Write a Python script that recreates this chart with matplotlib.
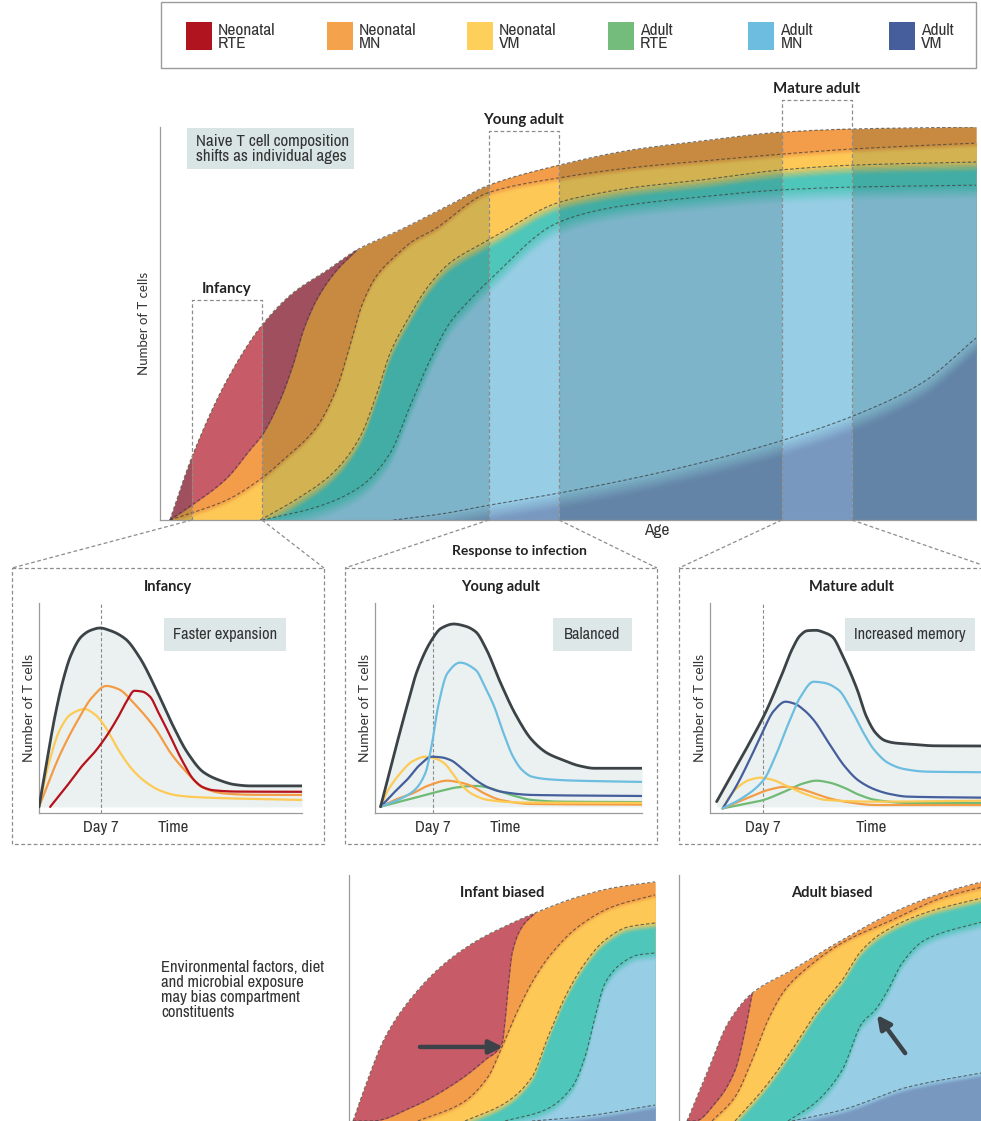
import numpy as np
import matplotlib.pyplot as plt
import matplotlib.colors as mcolors
from matplotlib import font_manager
from matplotlib.patches import Rectangle

# pick a condensed face if the system has one, else a narrow-ish sans
_fonts = font_manager.fontManager.ttflist
_narrow = [f for f in _fonts if "Narrow" in f.name or "Condensed" in f.name]
_cond = [f for f in _fonts if str(f.stretch) in ("condensed", "semi-condensed", "75", "87")]
if _narrow:
    NARROW, STRETCH = [_narrow[0].name, "DejaVu Sans"], "normal"
elif _cond:
    NARROW, STRETCH = [_cond[0].name, "DejaVu Sans"], "condensed"
else:
    NARROW, STRETCH = ["Liberation Sans", "DejaVu Sans"], "normal"
WIDE = ["Lato", "DejaVu Sans"]
plt.rcParams["font.family"] = NARROW
plt.rcParams["font.stretch"] = STRETCH

W, H = 981, 1121

# legend
LEGEND_LABELS = ["Neonatal\nRTE", "Neonatal\nMN", "Neonatal\nVM", "Adult\nRTE", "Adult\nMN", "Adult\nVM"]
LEGEND_COLORS = ["#b0141f", "#f4a24c", "#fecf5b", "#74bc7b", "#6dbde0", "#465e9b"]

# main chart, age 0-100 vs cells 0-100: boundaries between compartments
TOP_X = [1.2, 3.9, 8.2, 12.5, 16.3, 20.5, 24.1, 29.4, 35.5, 40.3, 48.9, 57.6, 66.2, 76.2, 84.8, 100]
TOP_Y = [0, 16, 35.6, 49.6, 57.8, 63.6, 68.7, 73.8, 80.2, 85.2, 90.3, 94.1, 96.4, 98.7, 99.5, 100]
RTE_X = [1.2, 3.9, 8.2, 11.0, 12.5, 14.7, 16.3, 17.6, 19.3, 21.5, 24.1]
RTE_Y = [0, 3.8, 10.7, 17.8, 21.6, 30.5, 39.5, 48.5, 56.5, 63.2, 68.7]
MN_X = [1.2, 3.9, 8.2, 12.3, 15.1, 19.2, 21.7, 23.5, 24.8, 26.5, 29.0, 31.0, 33.5, 40.1, 48.7, 57.6, 66.2, 76.2, 84.8, 100]
MN_Y = [0, 1.8, 5.1, 10.4, 15.3, 23.7, 33.8, 46, 55, 62, 67.5, 71, 73.8, 83.2, 87, 89.6, 91.3, 93.1, 94.4, 95.9]
VM_X = [12.3, 17.2, 21.2, 24.5, 26.6, 28.2, 30.3, 32.8, 35.5, 39.6, 41.7, 48.7, 53.9, 57.6, 66.2, 76.2, 84.8, 100]
VM_Y = [0, 5.9, 12, 21.1, 32.3, 42.5, 50.9, 59.3, 65.4, 70.5, 73, 80.7, 83.2, 84.5, 86.5, 89.1, 90.3, 91.1]
ART_X = [12.5, 19.2, 24.5, 28.2, 30.6, 33.1, 35.5, 37.6, 40.4, 48.7, 53.9, 57.6, 66.2, 76.2, 84.8, 100]
ART_Y = [0, 3.3, 8.4, 17, 28.8, 40.7, 50.1, 55.2, 61.1, 75.6, 78.9, 80.2, 82.2, 84, 84.7, 85.2]
AMN_X = [28.6, 34.3, 40.4, 49, 60, 68.6, 76.5, 85.2, 93.4, 100]
AMN_Y = [0, 1.5, 3.8, 6.9, 11.5, 15.8, 20.4, 26.7, 34.9, 46.3]

WINDOW_NAMES = ["Infancy", "Young adult", "Mature adult"]
WINDOW_START = [3.9, 40.3, 76.2]
WINDOW_END = [12.5, 48.9, 84.8]
WINDOW_TOP = [56, 99, 106.9]

# response to infection panels (time 0-100, cells 0-100)
P1_TOTAL_T = [0, 3, 6, 9.1, 12, 16, 19.5, 23, 27, 32.5, 38, 44.3, 50, 56.1, 62, 67.9, 74, 79.7, 99.2]
P1_TOTAL_N = [2.9, 25, 46, 63.3, 75, 84, 87, 88.1, 86.8, 83, 74, 58.6, 43, 28.6, 19.5, 15.7, 13.5, 12.9, 12.9]
P1_RTE_T = [4.2, 10, 16, 21, 25.3, 30, 33, 36, 39, 41.9, 45, 49, 54, 58.5, 62, 66, 75, 99.2]
P1_RTE_N = [2.9, 12, 22, 29, 36.3, 46, 53, 58.2, 57.8, 55.4, 48, 38, 25, 15.7, 12.2, 10.8, 10.2, 10.1]
P1_MN_T = [0, 8, 15, 20, 25.4, 30, 36, 44, 50, 56, 62, 70, 80, 99.2]
P1_MN_N = [2.9, 28, 45, 55, 60.5, 59, 52, 40, 28, 19, 12, 9.3, 8.7, 8.6]
P1_VM_T = [0, 4, 8, 12, 17.2, 21, 25, 30, 35, 40, 46, 52, 60, 99.2]
P1_VM_N = [2.9, 25, 40, 47, 49.5, 47, 41, 30, 21, 15, 10.5, 8.4, 7.5, 6.2]

P2_TOTAL_T = [2.1, 7, 12, 16, 21.4, 25, 29.7, 34, 38, 42, 47.4, 53, 59.2, 65, 71, 77, 82.8, 100.8]
P2_TOTAL_N = [3, 27, 50.6, 68, 82.4, 88, 90, 89, 86.3, 78, 61.9, 47, 34.8, 28.5, 25.2, 22.5, 21.3, 21.3]
P2_AMN_T = [2.1, 10, 15, 19, 21.5, 23.8, 27.3, 32.1, 38, 41.5, 45, 48.5, 52.1, 55.5, 59.2, 66, 75.7, 100.8]
P2_AMN_N = [3, 7, 11, 19, 33, 50.6, 66.5, 71.6, 68.1, 60, 50.6, 38, 26.8, 20.5, 17.3, 16, 15.4, 14.8]
P2_AVM_T = [2.1, 7, 12, 17, 21.4, 25, 28.5, 33, 38, 43, 47.4, 59.2, 100.8]
P2_AVM_N = [3, 9.5, 15.7, 23, 26.8, 26.5, 25.2, 21, 15.7, 12, 10.2, 8.6, 8.1]
P2_VM_T = [2.1, 5, 9.6, 14, 19, 23, 26.2, 30, 33.2, 37, 42.6, 55, 100.8]
P2_VM_N = [3, 11, 19, 24.5, 26.8, 25.8, 23.6, 17.5, 12.5, 8.8, 6.2, 5, 4.8]
P2_MN_T = [2.1, 8, 14.3, 20, 27.3, 31, 35.6, 41, 47.4, 59.2, 100.8]
P2_MN_N = [3, 6.5, 9.4, 13, 15.4, 14.8, 13.3, 9.5, 6.2, 4.3, 4]
P2_ART_T = [2.1, 8, 14.3, 23.8, 31, 38, 43, 47.4, 53, 59.2, 70, 100.8]
P2_ART_N = [3, 5, 7, 10.2, 12.2, 12.9, 12, 10.2, 8, 6.2, 5.4, 5.2]

P3_TOTAL_T = [2.5, 9, 15.5, 21, 27.3, 31, 34, 36.7, 40, 43, 46.1, 50, 55.6, 59, 62.6, 66, 70, 74.5, 85, 103.8]
P3_TOTAL_N = [5.4, 20, 34.8, 48, 66.5, 78, 84.5, 86.8, 87, 86, 84, 75, 58.6, 46, 38, 34.5, 33.3, 32.9, 32, 31.9]
P3_AMN_T = [4.8, 12, 20.2, 25, 29.6, 34, 39.1, 43, 48.5, 53, 58, 62, 67.4, 73, 81.6, 103.8]
P3_AMN_N = [2.2, 7, 15.7, 28, 42.6, 55, 62.5, 62, 58.6, 50, 38, 30, 23.7, 21, 19.7, 19.4]
P3_AVM_T = [4.8, 10, 15.5, 20, 24, 28.5, 32, 35.5, 39.1, 45, 50.9, 56, 62.6, 68, 74.5, 103.8]
P3_AVM_N = [2.2, 13, 26.8, 39, 48.5, 53, 52, 49, 44.3, 33, 22.1, 15.5, 11, 9, 7.8, 7.3]
P3_VM_T = [4.8, 7.5, 10.7, 15, 19, 23, 29.6, 36, 43.8, 62.6, 103.8]
P3_VM_N = [2.2, 8, 12.5, 15.8, 16.8, 16, 12.5, 9, 6.2, 5.4, 5.9]
P3_MN_T = [4.8, 10, 15.5, 22, 28.5, 34, 39.1, 45, 50.9, 62.6, 103.8]
P3_MN_N = [2.2, 5, 7.8, 11, 12.5, 11.5, 9.4, 7, 5.4, 3.8, 3.8]
P3_ART_T = [4.8, 12, 20.2, 25, 29.6, 35, 40.2, 45, 50.9, 56, 62.6, 74.5, 103.8]
P3_ART_N = [2.2, 4, 6.2, 8.5, 11, 14, 15.4, 14.5, 11.9, 8.8, 6.2, 4.8, 4.8]

PANEL_TITLES = ["Infancy", "Young adult", "Mature adult"]
PANEL_NOTES = ["Faster expansion", "Balanced", "Increased memory"]
DAY7 = [23.4, 21.9, 20.0]
TIME_TICK = [50.6, 49.0, 61.0]

# biased compartments (bottom)
IB_TOP_X = [1.3, 5.2, 11.8, 20.6, 31.4, 42.2, 53.3, 60.8, 74.8, 85.9, 100]
IB_TOP_Y = [0, 13.8, 34.1, 50.4, 64.2, 73.6, 80.5, 84.6, 91.1, 94.7, 97.2]
IB_RTE_X = [1.3, 7.5, 20.6, 34.6, 44.4, 50, 51, 52, 53.3, 56.5, 60.8]
IB_RTE_Y = [0, 0, 5.7, 15.4, 24.8, 31.7, 41.1, 54.5, 68.3, 78.9, 84.6]
IB_MN_X = [22.5, 36.9, 45.4, 50, 55.2, 60.8, 66.3, 74.8, 85.9, 100]
IB_MN_Y = [0, 7.3, 17.9, 30.1, 45.1, 58.5, 68.3, 78.9, 87, 91.9]
IB_VM_X = [37.9, 51, 59.8, 65, 70.6, 77.1, 83.7, 91.2, 100]
IB_VM_Y = [0, 7.3, 17.9, 34.1, 50.4, 64.2, 73.6, 78.9, 80.5]
IB_ART_X = [51, 64.1, 72.9, 77.1, 80.4, 83.7, 89.2, 94.4, 100]
IB_ART_Y = [0, 4.5, 13.8, 26, 42.3, 56.1, 64.2, 67.5, 68.3]
IB_AMN_X = [59.8, 74.8, 100]
IB_AMN_Y = [0, 1.6, 6.5]
IB_ARROW = [(23.2, 30.1), (50.3, 30.1)]

AB_TOP_X = [2.6, 9.5, 16, 23.9, 36.9, 53.3, 69.6, 85.9, 100]
AB_TOP_Y = [0, 20.7, 39.8, 52, 61.4, 73.6, 84.6, 92.7, 97.6]
AB_RTE_X = [2.6, 5.2, 11.8, 18.3, 21.6, 23.9]
AB_RTE_Y = [0, 0, 7.3, 20.7, 37, 52]
AB_MN_X = [10.8, 18.3, 23.9, 29.1, 34.6, 42.2, 53.3, 69.6, 85.9, 100]
AB_MN_Y = [0, 9.8, 24.8, 41.1, 53.3, 62.6, 72.4, 81.7, 90.7, 95.4]
AB_VM_X = [18.3, 28.1, 36.9, 45.4, 53.3, 59.8, 66.3, 80.4, 100]
AB_VM_Y = [0, 13.8, 28.9, 45.1, 57.3, 69.5, 76.4, 84.6, 91]
AB_ART_X = [35.6, 44.4, 53.3, 59.8, 64.1, 68.3, 72.9, 80.4, 100]
AB_ART_Y = [0, 7.3, 20.7, 39.8, 45.1, 53.3, 64.2, 73.6, 81.3]
AB_AMN_X = [36.9, 53.3, 74.8, 100]
AB_AMN_Y = [0, 4.5, 13.8, 19.8]
AB_ARROW = [(73.9, 27.6), (64.7, 43.1)]

MUTED = {"rte": "#9f4f5d", "mn": "#c88a40", "vm": "#d3b351",
         "art": "#41ada5", "amn": "#7eb4c9", "avm": "#6384a6"}
BRIGHT = {"rte": "#c85b68", "mn": "#f39c49", "vm": "#fdc856",
          "art": "#4fc6ba", "amn": "#97cde5", "avm": "#7898c0"}
LINE = {"total": "#3c4347", "rte": "#b5121b", "mn": "#f39c45", "vm": "#fdca55",
        "art": "#6fba74", "amn": "#6cbde0", "avm": "#455e9c"}


def pchip(xs, ys, xq):
    x = np.asarray(xs, float)
    y = np.asarray(ys, float)
    h = np.diff(x)
    d = np.diff(y) / h
    m = np.zeros_like(x)
    m[0], m[-1] = d[0], d[-1]
    for k in range(1, len(x) - 1):
        if d[k - 1] * d[k] > 0:
            w1 = 2 * h[k] + h[k - 1]
            w2 = h[k] + 2 * h[k - 1]
            m[k] = (w1 + w2) / (w1 / d[k - 1] + w2 / d[k])
    i = np.clip(np.searchsorted(x, xq) - 1, 0, len(x) - 2)
    t = (xq - x[i]) / h[i]
    return ((2 * t**3 - 3 * t**2 + 1) * y[i] + (t**3 - 2 * t**2 + t) * h[i] * m[i]
            + (-2 * t**3 + 3 * t**2) * y[i + 1] + (t**3 - t**2) * h[i] * m[i + 1])


def smooth(xs, ys, lo=-np.inf, hi=np.inf, n=400):
    a, b = max(lo, xs[0]), min(hi, xs[-1])
    if b <= a:
        return None, None
    xq = np.linspace(a, b, n)
    return xq, pchip(xs, ys, xq)


def mix(c1, c2, f):
    a = np.array(mcolors.to_rgb(c1))
    b = np.array(mcolors.to_rgb(c2))
    return tuple(a + (b - a) * f)


def paint_stack(ax, layers, red, pal, lo=-np.inf, hi=np.inf, z=1):
    # layers painted top-down, each filled to the baseline; soft edge under each boundary
    prev = None
    for xs, ys, key, blur in layers:
        xq, yq = smooth(xs, ys, lo, hi)
        if xq is not None:
            ax.fill_between(xq, 0, yq, color=pal[key], lw=0.3, ec=pal[key], zorder=z)
            if blur and prev:
                steps = 8
                for k in range(steps):
                    c = mix(pal[prev], pal[key], (k + 0.5) / steps)
                    ax.fill_between(xq, np.maximum(yq - blur * (k + 1) / steps, 0),
                                    np.maximum(yq - blur * k / steps, 0),
                                    color=c, lw=0.3, ec=c, zorder=z)
        prev = key
    top, low = red
    xq, yl = smooth(*low, lo, hi)
    if xq is not None:
        ax.fill_between(xq, yl, pchip(*top, xq), color=pal["rte"], lw=0.3,
                        ec=pal["rte"], zorder=z)


def dashed_bounds(ax, curves, z=5):
    for xs, ys in curves:
        xq, yq = smooth(xs, ys)
        ax.plot(xq, yq, color="#3a3a3a", lw=0.8, ls=(0, (3, 2)), alpha=0.7, zorder=z)


def px_axes(fig, x0, y0, x1, y1):
    return fig.add_axes([x0 / W, 1 - y1 / H, (x1 - x0) / W, (y1 - y0) / H])


def base_style(ax, xmax, spines=("left", "bottom")):
    ax.set_xlim(0, xmax)
    ax.set_ylim(0, 100)
    ax.set_facecolor("none")
    for s in ("top", "right", "left", "bottom"):
        ax.spines[s].set_visible(s in spines)
        ax.spines[s].set_color("#9b9b9b")
        ax.spines[s].set_linewidth(0.9)
    ax.set_xticks([])
    ax.set_yticks([])


fig = plt.figure(figsize=(W / 100, H / 100), dpi=100)

# ---- main composition chart ----
ax = px_axes(fig, 160, 127, 976, 520)
base_style(ax, 100)
main_layers = [(TOP_X, TOP_Y, "mn", 0), (MN_X, MN_Y, "vm", 1.2),
               (VM_X, VM_Y, "art", 2.5), (ART_X, ART_Y, "amn", 3.5),
               (AMN_X, AMN_Y, "avm", 4)]
main_red = ((TOP_X, TOP_Y), (RTE_X, RTE_Y))
paint_stack(ax, main_layers, main_red, MUTED)
for a, b in zip(WINDOW_START, WINDOW_END):
    paint_stack(ax, main_layers, main_red, BRIGHT, a, b, z=2)
dashed_bounds(ax, [(TOP_X, TOP_Y), (RTE_X, RTE_Y), (MN_X, MN_Y), (VM_X, VM_Y),
                   (ART_X, ART_Y), (AMN_X, AMN_Y)])
for name, a, b, top in zip(WINDOW_NAMES, WINDOW_START, WINDOW_END, WINDOW_TOP):
    ax.plot([a, a, b, b], [0, top, top, 0], color="#8c8c8c", lw=0.9,
            ls=(0, (3, 2)), clip_on=False, zorder=6)
    ax.text((a + b) / 2, top + 2.7, name, ha="center", va="center", fontsize=10.8,
            fontweight="bold", family=WIDE, color="#222222")
ax.set_ylabel("Number of T cells", fontsize=9.5, family=WIDE, color="#333333", labelpad=7)

# ---- infection response panels ----
panel_rects = [(39, 302), (375, 642), (710, 985)]
panel_curves = [
    [(P1_VM_T, P1_VM_N, "vm"), (P1_MN_T, P1_MN_N, "mn"), (P1_RTE_T, P1_RTE_N, "rte")],
    [(P2_ART_T, P2_ART_N, "art"), (P2_MN_T, P2_MN_N, "mn"), (P2_VM_T, P2_VM_N, "vm"),
     (P2_AVM_T, P2_AVM_N, "avm"), (P2_AMN_T, P2_AMN_N, "amn")],
    [(P3_ART_T, P3_ART_N, "art"), (P3_MN_T, P3_MN_N, "mn"), (P3_VM_T, P3_VM_N, "vm"),
     (P3_AVM_T, P3_AVM_N, "avm"), (P3_AMN_T, P3_AMN_N, "amn")],
]
panel_totals = [(P1_TOTAL_T, P1_TOTAL_N), (P2_TOTAL_T, P2_TOTAL_N), (P3_TOTAL_T, P3_TOTAL_N)]
for i, (x0, x1) in enumerate(panel_rects):
    pax = px_axes(fig, x0, 603, x1, 813)
    base_style(pax, (x1 - x0) / 2.65)
    tt, nn = panel_totals[i]
    xq, yq = smooth(tt, nn)
    pax.fill_between(xq, 2.9, yq, color="#ebf1f1", lw=0, zorder=1)
    pax.axvline(DAY7[i], color="#8a8a8a", lw=0.8, ls=(0, (3, 2)), zorder=2)
    for t, n, key in panel_curves[i]:
        xq2, yq2 = smooth(t, n)
        pax.plot(xq2, yq2, color=LINE[key], lw=1.6, zorder=3, solid_capstyle="round")
    pax.plot(xq, yq, color=LINE["total"], lw=2.0, zorder=4, solid_capstyle="round")
    pax.set_xticks([DAY7[i], TIME_TICK[i]], ["Day 7", "Time"])
    pax.tick_params(axis="x", length=0, pad=5, labelsize=12, labelcolor="#333333")
    pax.set_ylabel("Number of T cells", fontsize=10, family=WIDE, color="#333333", labelpad=3)

# ---- biased compartments ----
bias = [
    ("Infant biased", (349, 655), [(IB_TOP_X, IB_TOP_Y, "mn", 0), (IB_MN_X, IB_MN_Y, "vm", 1.5),
                                    (IB_VM_X, IB_VM_Y, "art", 2.5), (IB_ART_X, IB_ART_Y, "amn", 3),
                                    (IB_AMN_X, IB_AMN_Y, "avm", 2)],
     ((IB_TOP_X, IB_TOP_Y), (IB_RTE_X, IB_RTE_Y)), IB_ARROW),
    ("Adult biased", (679, 985), [(AB_TOP_X, AB_TOP_Y, "mn", 0), (AB_MN_X, AB_MN_Y, "vm", 1.5),
                                   (AB_VM_X, AB_VM_Y, "art", 2.5), (AB_ART_X, AB_ART_Y, "amn", 3),
                                   (AB_AMN_X, AB_AMN_Y, "avm", 2)],
     ((AB_TOP_X, AB_TOP_Y), (AB_RTE_X, AB_RTE_Y)), AB_ARROW),
]
for title, (x0, x1), layers, red, arrow in bias:
    bax = px_axes(fig, x0, 875, x1, 1121)
    base_style(bax, 100, spines=("left",))
    paint_stack(bax, layers, red, BRIGHT)
    dashed_bounds(bax, [(l[0], l[1]) for l in layers] + [red[1]])
    bax.annotate("", xy=arrow[1], xytext=arrow[0],
                 arrowprops=dict(arrowstyle="-|>", color="#3b4248", lw=3.2,
                                 mutation_scale=20, shrinkA=0, shrinkB=0), zorder=8)
    bax.set_title(title, fontsize=10.5, fontweight="bold", family=WIDE, color="#222222",
                  pad=-16, y=1.0)

# ---- overlay: legend, boxes, connectors, notes ----
ov = fig.add_axes([0, 0, 1, 1])
ov.set_xlim(0, W)
ov.set_ylim(H, 0)
ov.axis("off")

ov.add_patch(Rectangle((161, 2), 815, 66, fill=False, ec="#9b9b9b", lw=1))
for k, (lab, col) in enumerate(zip(LEGEND_LABELS, LEGEND_COLORS)):
    x = 186 + k * 140.6
    ov.add_patch(Rectangle((x, 22), 26, 28, color=col, lw=0))
    ov.text(x + 32, 37, lab, fontsize=12.5, va="center", ha="left", color="#333333",
            linespacing=0.88)

ov.add_patch(Rectangle((187, 128), 167, 41, color="#d9e4e4", lw=0))
ov.text(196, 149, "Naive T cell composition\nshifts as individual ages", fontsize=12.2,
        va="center", ha="left", color="#333333", linespacing=1.0)
ov.text(657, 531, "Age", fontsize=12.5, ha="center", va="center", color="#333333")
ov.text(519, 551, "Response to infection", fontsize=10, fontweight="bold", family=WIDE,
        ha="center", va="center", color="#222222")

box_x = [(12, 324), (345, 657), (679, 991)]
note_x = [(164, 286), (553, 632), (845, 975)]
for i, ((bx0, bx1), (nx0, nx1)) in enumerate(zip(box_x, note_x)):
    ov.add_patch(Rectangle((bx0, 568), bx1 - bx0, 276, fill=False, ec="#8c8c8c",
                           lw=0.9, ls=(0, (3, 2))))
    for wx, bx in ((WINDOW_START[i], bx0), (WINDOW_END[i], bx1)):
        dx, dy = ax.transData.transform((wx, 0))
        ov.plot([dx, bx], [H - dy, 568], color="#8c8c8c", lw=0.9, ls=(0, (3, 2)))
    ov.text((bx0 + bx1) / 2 if i < 2 else 851, 587, PANEL_TITLES[i], fontsize=10.5,
            fontweight="bold", family=WIDE, ha="center", va="center", color="#222222")
    ov.add_patch(Rectangle((nx0, 618), nx1 - nx0, 33, color="#dde7e7", lw=0))
    ov.text((nx0 + nx1) / 2, 634.5, PANEL_NOTES[i], fontsize=11.8, ha="center",
            va="center", color="#333333")

ov.text(161, 990, "Environmental factors, diet\nand microbial exposure\nmay bias compartment\nconstituents",
        fontsize=12, ha="left", va="center", color="#333333", linespacing=0.98)

fig.savefig("out.png", dpi=100)
